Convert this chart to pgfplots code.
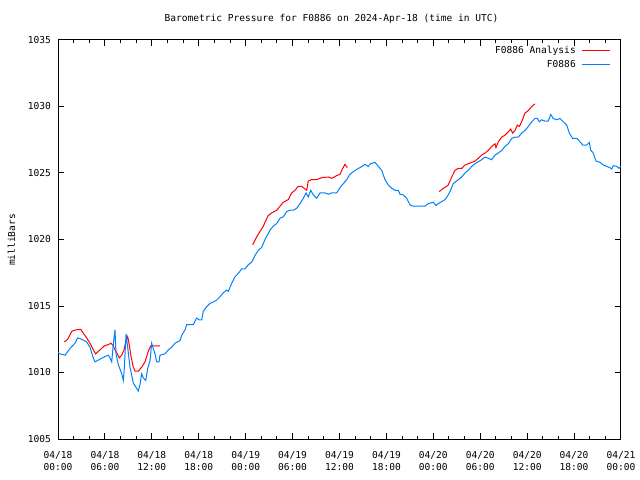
\documentclass[border=0pt]{standalone}
\usepackage{pgfplots}
\pgfplotsset{compat=1.18}
\usepackage{fontspec}
\setmainfont{DejaVu Sans Mono}
\definecolor{anared}{RGB}{255,0,0}
\definecolor{obsblue}{RGB}{0,128,255}
\begin{document}
\begin{tikzpicture}
\useasboundingbox (-58bp,-41bp) rectangle (582bp,439bp);
\begin{axis}[
  at={(0,0)}, anchor=south west,
  scale only axis, width=563bp, height=399bp,
  xmin=0, xmax=72, ymin=1005, ymax=1035,
  axis line style={line width=1bp},
  every tick/.style={black, line width=1bp},
  major tick length=6bp, minor tick length=3bp,
  tick align=inside,
  xtick={0,6,...,72}, minor x tick num=2,
  xticklabels={{04/18\\00:00},{04/18\\06:00},{04/18\\12:00},{04/18\\18:00},{04/19\\00:00},{04/19\\06:00},{04/19\\12:00},{04/19\\18:00},{04/20\\00:00},{04/20\\06:00},{04/20\\12:00},{04/20\\18:00},{04/21\\00:00}},
  xticklabel style={align=center, font=\fontsize{9.6}{12}\selectfont, yshift=-9bp},
  ytick={1005,1010,...,1035},
  yticklabels={1005,1010,1015,1020,1025,1030,1035},
  yticklabel style={font=\fontsize{9.6}{12}\selectfont, xshift=-3.5bp},
  legend plot pos=right,
  legend cell align=right,
  legend image code/.code={\path (0bp,0bp); \draw[#1] (4bp,0bp) -- (32bp,0bp);},
  legend style={at={(rel axis cs:0.9813,0.990)}, anchor=north east, draw=none, fill=none,
     font=\fontsize{9.6}{12}\selectfont, inner sep=0pt, row sep=3bp,
     nodes={inner sep=1.5bp}},
]
% F0886 Analysis (red), segment 1
\addplot[anared, line width=1bp] coordinates {
(0.81,1012.3)(1.24,1012.5)(1.75,1013.1)(2.26,1013.2)(2.90,1013.25)(3.24,1012.95)(3.67,1012.6)(4.09,1012.2)(4.51,1011.7)(4.82,1011.4)(5.37,1011.7)(5.92,1012.0)(6.43,1012.1)(6.78,1012.2)(7.07,1012.0)(7.29,1011.7)(7.51,1011.5)(7.84,1011.1)(8.15,1011.3)(8.44,1011.7)(8.70,1012.4)(8.91,1012.7)(9.08,1012.2)(9.34,1011.2)(9.63,1010.4)(9.85,1010.1)(10.27,1010.1)(10.70,1010.4)(11.13,1010.8)(11.55,1011.6)(11.86,1012.0)(12.41,1012.0)(13.04,1012.0)
};
\addlegendentry{F0886 Analysis}
\addplot[anared, line width=1bp, forget plot] coordinates {
(24.90,1019.6)(25.41,1020.2)(25.83,1020.6)(26.26,1021.0)(26.47,1021.3)(26.89,1021.8)(27.33,1022.0)(27.97,1022.2)(28.39,1022.5)(28.81,1022.8)(29.45,1023.0)(29.89,1023.5)(30.31,1023.7)(30.73,1024.0)(31.17,1024.0)(31.59,1023.8)(31.81,1023.7)(32.01,1024.4)(32.45,1024.5)(33.08,1024.5)(33.72,1024.65)(34.57,1024.7)(35.00,1024.6)(35.64,1024.8)(36.06,1024.9)(36.41,1025.35)(36.70,1025.65)(37.00,1025.4)
};
\addplot[anared, line width=1bp, forget plot] coordinates {
(48.76,1023.6)(49.28,1023.85)(49.71,1024.0)(49.91,1024.1)(50.35,1024.7)(50.77,1025.2)(51.19,1025.35)(51.63,1025.35)(52.05,1025.6)(52.47,1025.7)(52.91,1025.8)(53.33,1025.9)(53.75,1026.1)(54.19,1026.35)(54.61,1026.5)(55.03,1026.7)(55.46,1027.0)(55.89,1027.2)(56.01,1026.9)(56.31,1027.35)(56.74,1027.7)(57.17,1027.85)(57.59,1028.1)(57.90,1028.3)(58.15,1028.0)(58.44,1028.2)(58.74,1028.6)(59.00,1028.5)(59.30,1028.85)(59.72,1029.5)(60.15,1029.7)(60.58,1030.0)(61.00,1030.2)
};
% F0886 (blue)
\addplot[obsblue, line width=1bp] coordinates {
(0.00,1011.5)(0.26,1011.4)(0.90,1011.3)(1.53,1011.8)(2.17,1012.2)(2.52,1012.6)(3.03,1012.5)(3.67,1012.3)(4.09,1011.9)(4.51,1011.1)(4.73,1010.8)(5.37,1011.0)(6.01,1011.2)(6.43,1011.3)(6.65,1011.1)(6.87,1010.8)(7.07,1012.1)(7.29,1013.2)(7.42,1011.4)(7.71,1010.6)(8.15,1009.9)(8.35,1009.4)(8.48,1010.3)(8.70,1012.9)(8.91,1011.9)(9.21,1010.4)(9.63,1009.2)(10.07,1008.8)(10.27,1008.6)(10.49,1009.1)(10.70,1009.9)(10.91,1009.6)(11.22,1009.4)(11.47,1010.3)(11.77,1010.9)(11.98,1012.2)(12.19,1011.8)(12.41,1011.4)(12.62,1010.8)(12.92,1010.8)(13.04,1011.3)(13.68,1011.4)(14.11,1011.7)(14.54,1011.9)(14.96,1012.2)(15.60,1012.4)(15.82,1012.8)(16.24,1013.2)(16.46,1013.6)(16.88,1013.6)(17.30,1013.6)(17.74,1014.1)(18.07,1013.95)(18.38,1013.95)(18.58,1014.6)(19.02,1014.95)(19.44,1015.2)(19.86,1015.3)(20.30,1015.45)(20.72,1015.7)(21.14,1016.0)(21.57,1016.2)(21.78,1016.1)(22.21,1016.7)(22.64,1017.2)(23.06,1017.45)(23.49,1017.8)(23.92,1017.8)(24.34,1018.1)(24.77,1018.3)(25.19,1018.8)(25.62,1019.2)(26.05,1019.4)(26.47,1020.0)(27.11,1020.7)(27.53,1021.0)(27.97,1021.2)(28.39,1021.6)(28.81,1021.7)(29.25,1022.1)(29.67,1022.2)(30.09,1022.2)(30.53,1022.35)(30.95,1022.7)(31.37,1023.1)(31.72,1023.5)(32.01,1023.2)(32.32,1023.7)(32.65,1023.35)(33.08,1023.1)(33.51,1023.5)(34.15,1023.5)(34.57,1023.4)(35.00,1023.5)(35.64,1023.5)(36.06,1023.9)(36.49,1024.2)(36.92,1024.5)(37.34,1024.9)(37.77,1025.1)(38.40,1025.35)(38.62,1025.4)(39.26,1025.65)(39.68,1025.5)(39.99,1025.7)(40.54,1025.8)(40.96,1025.5)(41.40,1025.2)(41.82,1024.5)(42.24,1024.1)(42.68,1023.85)(43.10,1023.7)(43.52,1023.7)(43.74,1023.4)(44.16,1023.35)(44.59,1023.1)(45.02,1022.6)(45.44,1022.5)(46.30,1022.5)(46.93,1022.5)(47.36,1022.7)(48.00,1022.8)(48.34,1022.55)(48.64,1022.7)(49.07,1022.85)(49.49,1023.0)(49.91,1023.35)(50.13,1023.6)(50.55,1024.2)(51.19,1024.5)(51.63,1024.7)(52.05,1025.0)(52.47,1025.2)(52.91,1025.5)(53.33,1025.7)(53.75,1025.85)(54.19,1026.0)(54.61,1026.2)(55.03,1026.1)(55.46,1026.0)(55.89,1026.35)(56.31,1026.5)(56.74,1026.7)(57.17,1027.0)(57.59,1027.2)(58.02,1027.6)(58.44,1027.7)(58.87,1027.7)(59.30,1028.0)(59.72,1028.2)(60.15,1028.5)(60.58,1028.85)(61.00,1029.1)(61.30,1029.1)(61.55,1028.85)(61.86,1029.0)(62.28,1028.9)(62.70,1028.9)(63.01,1029.4)(63.34,1029.1)(63.78,1029.0)(64.20,1029.1)(64.62,1028.85)(65.06,1028.6)(65.39,1028.0)(65.82,1027.6)(66.34,1027.6)(66.76,1027.35)(67.11,1027.1)(67.61,1027.1)(67.95,1027.3)(68.13,1026.7)(68.46,1026.5)(68.80,1025.9)(69.32,1025.8)(69.74,1025.6)(70.17,1025.5)(70.59,1025.4)(70.81,1025.3)(71.02,1025.55)(71.45,1025.5)(71.74,1025.35)(71.96,1025.5)
};
\addlegendentry{F0886}
\end{axis}
\node[font=\fontsize{9.6}{12}\selectfont] at (273.5bp,420bp) {Barometric Pressure for F0886 on 2024-Apr-18 (time in UTC)};
\node[font=\fontsize{9.6}{12}\selectfont, rotate=90] at (-46.5bp,199bp) {milliBars};
\end{tikzpicture}
\end{document}
